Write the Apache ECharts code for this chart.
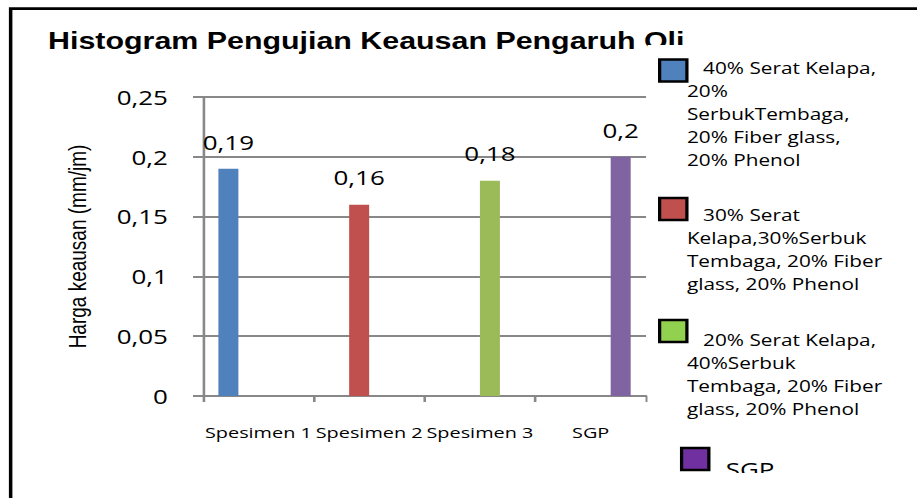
<!DOCTYPE html>
<html>
<head>
<meta charset="utf-8">
<script src="https://cdn.jsdelivr.net/npm/echarts@6/dist/echarts.min.js"></script>
<style>
html,body{margin:0;padding:0;background:#fff;overflow:hidden;}
/* the original picture is stretched sideways, so draw narrow and stretch */
#pic_chart{width:706px;height:498px;transform:scaleX(1.298867);transform-origin:0 0;}
</style>
</head>
<body>
<div id="pic_chart"></div>
<script>
var categories = ['Spesimen 1', 'Spesimen 2', 'Spesimen 3', 'SGP'];
var keausan = [0.19, 0.16, 0.18, 0.2];
var seriesNames = [
    '40% Serat Kelapa, 20% SerbukTembaga, 20% Fiber glass, 20% Phenol',
    '30% Serat Kelapa,30%Serbuk Tembaga, 20% Fiber glass, 20% Phenol',
    '20% Serat Kelapa, 40%Serbuk Tembaga, 20% Fiber glass, 20% Phenol',
    'SGP'
];
var legendLines = [
    ['   40% Serat Kelapa,', '20%', 'SerbukTembaga,', '20% Fiber glass,', '20% Phenol'],
    ['   30% Serat', 'Kelapa,30%Serbuk', 'Tembaga, 20% Fiber', 'glass, 20% Phenol'],
    ['   20% Serat Kelapa,', '40%Serbuk', 'Tembaga, 20% Fiber', 'glass, 20% Phenol'],
    ['SGP']
];
var yMin = 0, yMax = 0.25, yStep = 0.05;

var barColors = ['#4F81BD', '#C0504D', '#9BBB59', '#8064A2'];
var legendColors = ['#4F81BD', '#C0504D', '#92D050', '#7030A0'];
// sp = height of an empty first line, so the first text line sits next to the icon
var legendLayout = [
    {left: 506.6, top: -30, sp: 86, padL: -5, size: 16},
    {left: 506.6, top: 122.5, sp: 81, padL: -5, size: 16},
    {left: 506.6, top: 241.5, sp: 87, padL: -5, size: 16},
    {left: 523.5, top: 437.5, sp: 20, padL: 8, size: 20}
];

function koma(v) {
    return String(+(+v).toFixed(2)).replace('.', ',');
}

var myChart = echarts.init(document.getElementById('pic_chart'), null, {renderer: 'svg'});

var option = {
    animation: false,
    backgroundColor: '#fff',
    title: {
        text: 'Histogram Pengujian Keausan Pengaruh Oli',
        left: 37,
        top: 29,
        padding: 0,
        textStyle: {
            fontFamily: 'Liberation Sans',
            fontWeight: 'bold',
            fontSize: 23.4,
            color: '#000'
        }
    },
    legend: seriesNames.map(function (name, i) {
        var L = legendLayout[i];
        return {
            data: [{name: name, itemStyle: {color: legendColors[i]}}],
            left: L.left,
            top: L.top,
            padding: 0,
            orient: 'vertical',
            icon: 'rect',
            itemWidth: 21,
            itemHeight: 22,
            itemStyle: {borderColor: '#000', borderWidth: 2.5},
            selectedMode: false,
            z: 60,
            formatter: function () {
                return '{s| }\n' + legendLines[i].join('\n');
            },
            textStyle: {
                fontFamily: 'Open Sans',
                fontSize: L.size,
                lineHeight: 23,
                color: '#000',
                padding: [0, 0, 0, L.padL],
                rich: {
                    s: {fontSize: 8, lineHeight: L.sp}
                }
            }
        };
    }),
    graphic: [
        // frame
        {type: 'rect', shape: {x: 8.2, y: 8.7, width: 800, height: 600}, style: {fill: 'none', stroke: '#000', lineWidth: 2.7}, z: 40},
        // legend area covers the end of the title
        {type: 'rect', shape: {x: 498.5, y: 45, width: 220, height: 460}, style: {fill: '#fff'}, z: 50},
        // bottom of the picture is cut
        {type: 'rect', shape: {x: 498.5, y: 473, width: 220, height: 40}, style: {fill: '#fff'}, z: 70}
    ],
    grid: {
        left: 156.3,
        right: 208.6,
        top: 97,
        bottom: 102
    },
    xAxis: {
        type: 'category',
        data: categories,
        axisLine: {show: true, lineStyle: {color: '#888', width: 2}},
        axisTick: {show: true, length: 6, lineStyle: {color: '#888', width: 2}},
        axisLabel: {
            interval: 0,
            margin: 28,
            fontFamily: 'Open Sans',
            fontSize: 15.3,
            color: '#000'
        }
    },
    yAxis: {
        type: 'value',
        min: yMin,
        max: yMax,
        interval: yStep,
        name: 'Harga keausan (mm/jm)',
        nameLocation: 'middle',
        nameGap: 87,
        nameTextStyle: {
            fontFamily: 'Liberation Sans',
            fontSize: 19,
            color: '#000'
        },
        axisLine: {show: true, lineStyle: {color: '#888', width: 2}},
        axisTick: {show: true, length: 7.7, lineStyle: {color: '#888', width: 2}},
        splitLine: {show: true, lineStyle: {color: '#888', width: 2}},
        axisLabel: {
            margin: 27,
            fontFamily: 'Open Sans',
            fontSize: 20,
            color: '#000',
            formatter: koma
        }
    },
    series: seriesNames.map(function (name, i) {
        return {
            name: name,
            type: 'bar',
            barWidth: 15.4,
            barGap: '0%',
            data: categories.map(function (c, j) {
                return j === i ? keausan[j] : '-';
            }),
            itemStyle: {color: barColors[i]},
            label: {
                show: true,
                position: 'top',
                distance: 17,
                fontFamily: 'Open Sans',
                fontSize: 20,
                color: '#000',
                formatter: function (p) {
                    return koma(p.value);
                }
            }
        };
    })
};
myChart.setOption(option);
</script>
</body>
</html>
